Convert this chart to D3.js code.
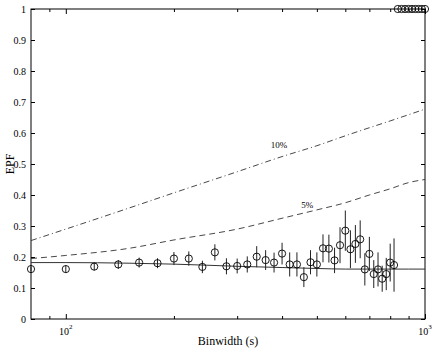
<!DOCTYPE html>
<html>
<head>
<meta charset="utf-8">
<script src="https://cdn.jsdelivr.net/npm/d3@7"></script>
<style>
	body { margin: 0; background: #fff; }
	text { font-family: "Liberation Serif", "Times New Roman", serif; fill: #000; }
</style>
</head>
<body>
<svg id="chart" width="436" height="350"></svg>
<script>

// binwidths (s) of the measured points
var binwidth = [80, 100, 120, 140, 160, 180, 200, 220, 240, 260, 280, 300,
				320, 340, 360, 380, 400, 420, 440, 460, 480, 500, 520, 540,
				560, 580, 600, 620, 640, 660, 680, 700, 720, 740, 760, 780,
				800, 820, 840, 860, 880, 900, 920, 940, 960, 980, 1000];

// measured EPF and its error
var epf = [0.161, 0.161, 0.169, 0.176, 0.182, 0.180, 0.195, 0.195, 0.168,
			0.215, 0.170, 0.171, 0.176, 0.201, 0.190, 0.182, 0.211, 0.176,
			0.176, 0.135, 0.183, 0.176, 0.228, 0.227, 0.189, 0.238, 0.285,
			0.225, 0.242, 0.257, 0.160, 0.210, 0.145, 0.160, 0.130, 0.145,
			0.182, 0.174, 1, 1, 1, 1, 1, 1, 1, 1, 1];

var epfErr = [0.008, 0.012, 0.012, 0.014, 0.016, 0.016, 0.021, 0.023, 0.020,
			0.026, 0.026, 0.024, 0.026, 0.034, 0.032, 0.032, 0.035, 0.039,
			0.039, 0.032, 0.039, 0.039, 0.045, 0.045, 0.041, 0.058, 0.065,
			0.061, 0.061, 0.061, 0.052, 0.055, 0.045, 0.055, 0.042, 0.052,
			0.061, 0.086, 0, 0, 0, 0, 0, 0, 0, 0, 0];

// smooth curves: expected EPF and the 5% / 10% levels
var curveX = [80, 100, 150, 200, 300, 400, 500, 600, 700, 800, 900, 1000];
var expected = [0.182, 0.182, 0.180, 0.177, 0.170, 0.166, 0.163, 0.161,
				0.161, 0.161, 0.161, 0.161];
var level5 = [0.195, 0.205, 0.228, 0.255, 0.29, 0.325, 0.352, 0.375, 0.40,
				0.42, 0.44, 0.45];
var level10 = [0.253, 0.29, 0.358, 0.407, 0.475, 0.524, 0.559, 0.591, 0.617,
				0.639, 0.659, 0.677];

var yTicks = [0, 0.1, 0.2, 0.3, 0.4, 0.5, 0.6, 0.7, 0.8, 0.9, 1];
var xMinorTicks = [90, 200, 300, 400, 500, 600, 700, 800, 900];
var xMajorTicks = [100, 1000];


var margin = {top: 9, right: 11, bottom: 31, left: 31};
var width = 436 - margin.left - margin.right;
var height = 350 - margin.top - margin.bottom;

var svg = d3.select("#chart");

var g = svg.append("g")
			.attr("transform", "translate(" + margin.left + "," + margin.top + ")");

var x = d3.scaleLog()
			.domain([80, 1000])
			.range([0, width]);

var y = d3.scaleLinear()
			.domain([0, 1])
			.range([height, 0]);


// axes, ticks pointing inwards on all four sides
function drawAxes() {

	g.append("rect")
		.attr("x", 0)
		.attr("y", 0)
		.attr("width", width)
		.attr("height", height)
		.style("fill", "none")
		.style("stroke", "#000")
		.style("stroke-width", 1);

	var left = d3.axisLeft(y).tickValues(yTicks).tickSize(-4).tickPadding(5)
					.tickFormat(function(d) { return d3.format("~g")(d); });
	var right = d3.axisRight(y).tickValues(yTicks).tickSize(-4)
					.tickFormat("");

	g.append("g").attr("class", "axis").call(left);
	g.append("g").attr("class", "axis")
		.attr("transform", "translate(" + width + ",0)")
		.call(right);

	var bottomMinor = d3.axisBottom(x).tickValues(xMinorTicks).tickSize(-3)
					.tickFormat("");
	var topMinor = d3.axisTop(x).tickValues(xMinorTicks).tickSize(-3)
					.tickFormat("");
	var bottomMajor = d3.axisBottom(x).tickValues(xMajorTicks).tickSize(-5)
					.tickFormat("");
	var topMajor = d3.axisTop(x).tickValues(xMajorTicks).tickSize(-5)
					.tickFormat("");

	g.append("g").attr("class", "axis")
		.attr("transform", "translate(0," + height + ")").call(bottomMinor);
	g.append("g").attr("class", "axis")
		.attr("transform", "translate(0," + height + ")").call(bottomMajor);
	g.append("g").attr("class", "axis").call(topMinor);
	g.append("g").attr("class", "axis").call(topMajor);

	g.selectAll(".axis .domain").remove();
	g.selectAll(".axis line").style("stroke", "#000");
	g.selectAll(".axis text")
		.style("font-family", "Liberation Serif, serif")
		.style("font-size", "10px");

	// 10^2 and 10^3 labels
	var powers = g.append("g")
					.selectAll("text")
					.data(xMajorTicks).enter()
					.append("text")
					.attr("x", function(d) { return x(d); })
					.attr("y", height + 16)
					.attr("text-anchor", "middle")
					.style("font-size", "10px");

	powers.append("tspan").text("10");
	powers.append("tspan")
		.attr("dy", -6)
		.style("font-size", "7px")
		.text(function(d) { return Math.round(Math.log10(d)); });

	svg.append("text")
		.attr("x", margin.left + width / 2)
		.attr("y", 345)
		.attr("text-anchor", "middle")
		.style("font-size", "12px")
		.text("Binwidth (s)");

	svg.append("text")
		.attr("transform", "translate(14," + (margin.top + height / 2) + ") rotate(-90)")
		.attr("text-anchor", "middle")
		.style("font-size", "12px")
		.text("EPF");
}


function drawCurves() {

	var line = d3.line()
				.x(function(d) { return x(d[0]); })
				.y(function(d) { return y(d[1]); })
				.curve(d3.curveMonotoneX);

	g.append("path")
		.datum(d3.zip(curveX, expected))
		.attr("d", line)
		.style("fill", "none")
		.style("stroke", "#333")
		.style("stroke-width", 1);

	g.append("path")
		.datum(d3.zip(curveX, level5))
		.attr("d", line)
		.style("fill", "none")
		.style("stroke", "#333")
		.style("stroke-width", 0.9)
		.style("stroke-dasharray", "6,4");

	g.append("path")
		.datum(d3.zip(curveX, level10))
		.attr("d", line)
		.style("fill", "none")
		.style("stroke", "#333")
		.style("stroke-width", 0.9)
		.style("stroke-dasharray", "6,3,1,3");

	g.append("text")
		.attr("x", x(392))
		.attr("y", y(0.552))
		.attr("text-anchor", "middle")
		.style("font-size", "9px")
		.text("10%");

	g.append("text")
		.attr("x", x(470))
		.attr("y", y(0.358))
		.attr("text-anchor", "middle")
		.style("font-size", "9px")
		.text("5%");
}


function drawPoints() {

	var points = d3.zip(binwidth, epf, epfErr);

	g.append("g")
		.selectAll("line")
		.data(points.filter(function(d) { return d[2] > 0; })).enter()
		.append("line")
		.attr("x1", function(d) { return x(d[0]); })
		.attr("x2", function(d) { return x(d[0]); })
		.attr("y1", function(d) { return y(d[1] - d[2]); })
		.attr("y2", function(d) { return y(d[1] + d[2]); })
		.style("stroke", "#222")
		.style("stroke-width", 1);

	g.append("g")
		.selectAll("circle")
		.data(points).enter()
		.append("circle")
		.attr("cx", function(d) { return x(d[0]); })
		.attr("cy", function(d) { return y(d[1]); })
		.attr("r", 3.6)
		.style("fill", "none")
		.style("stroke", "#000")
		.style("stroke-width", 0.9);
}


drawAxes();
drawCurves();
drawPoints();

</script>
</body>
</html>
